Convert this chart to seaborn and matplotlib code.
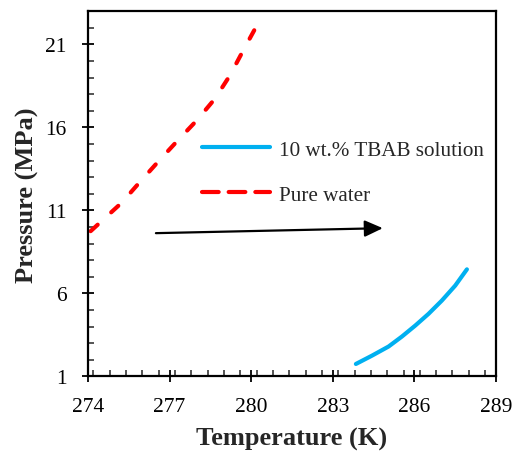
import matplotlib
matplotlib.use("Agg")
import matplotlib.pyplot as plt
from matplotlib.ticker import MultipleLocator
import seaborn as sns
import pandas as pd

water_T = [274.10, 275.24, 275.91, 276.59, 277.30, 278.00, 278.67, 279.22, 279.71, 280.18]
water_P = [9.75, 11.46, 12.71, 13.95, 15.21, 16.42, 17.73, 19.13, 20.64, 22.05]
tbab_T = [283.85, 284.44, 285.05, 285.54, 286.03, 286.52, 287.01, 287.50, 287.93]
tbab_P = [1.75, 2.25, 2.80, 3.40, 4.06, 4.77, 5.57, 6.47, 7.45]
arrow_start = (276.50, 9.63)
arrow_end = (284.84, 9.93)
xticks = [274, 277, 280, 283, 286, 289]
yticks = [1, 6, 11, 16, 21]

sns.set_style("white")
plt.rcParams['font.family'] = ['Liberation Serif', 'DejaVu Serif']

fig = plt.figure(figsize=(5.14, 4.52), dpi=100)
ax = fig.add_axes([0.171, 0.165, 0.794, 0.808])

df_t = pd.DataFrame({"T": tbab_T, "P": tbab_P})
df_w = pd.DataFrame({"T": water_T, "P": water_P})
sns.lineplot(data=df_t, x="T", y="P", ax=ax, color="#00b0f0", lw=3,
             sort=False, label="10 wt.% TBAB solution")
sns.lineplot(data=df_w, x="T", y="P", ax=ax, color="#ff0000", lw=3,
             sort=False, label="Pure water", dashes=False)
ax.lines[0].set_solid_joinstyle("round")
ax.lines[0].set_solid_capstyle("round")
ax.lines[1].set_dashes((2.3, 4.4))
ax.lines[1].set_dash_joinstyle("round")
ax.lines[1].set_dash_capstyle("round")

ax.annotate("", xy=arrow_end, xytext=arrow_start,
            arrowprops=dict(arrowstyle="-|>,head_length=1.1,head_width=0.5",
                            color="black", lw=1.6, shrinkA=0, shrinkB=0))

ax.set_xlim(274, 289)
ax.set_ylim(1, 23)
ax.set_xticks(xticks)
ax.set_yticks(yticks)
ax.xaxis.set_minor_locator(MultipleLocator(0.6))
ax.yaxis.set_minor_locator(MultipleLocator(1))
ax.tick_params(which="major", direction="inout", length=9, width=1.3,
               labelsize=15.5, bottom=True, left=True, colors="black")
ax.tick_params(axis="x", which="major", pad=10)
ax.tick_params(axis="y", which="major", pad=11)
ax.tick_params(which="minor", direction="in", length=4, width=1.1,
               bottom=True, left=True)
for s in ax.spines.values():
    s.set_color("black")
    s.set_linewidth(1.6)

ax.set_xlabel("Temperature (K)", fontsize=19, fontweight="bold", labelpad=8)
ax.set_ylabel("Pressure (MPa)", fontsize=19, fontweight="bold", labelpad=4)

leg = ax.legend(loc="upper left", bbox_to_anchor=(0.233, 0.70), frameon=False,
                fontsize=15.2, handlelength=3.2, labelspacing=1.2, handletextpad=0.45)
for h in leg.get_lines():
    h.set_linewidth(3)
leg.get_lines()[1].set_dashes((4, 2.4))

fig.savefig("out.png", dpi=100)
